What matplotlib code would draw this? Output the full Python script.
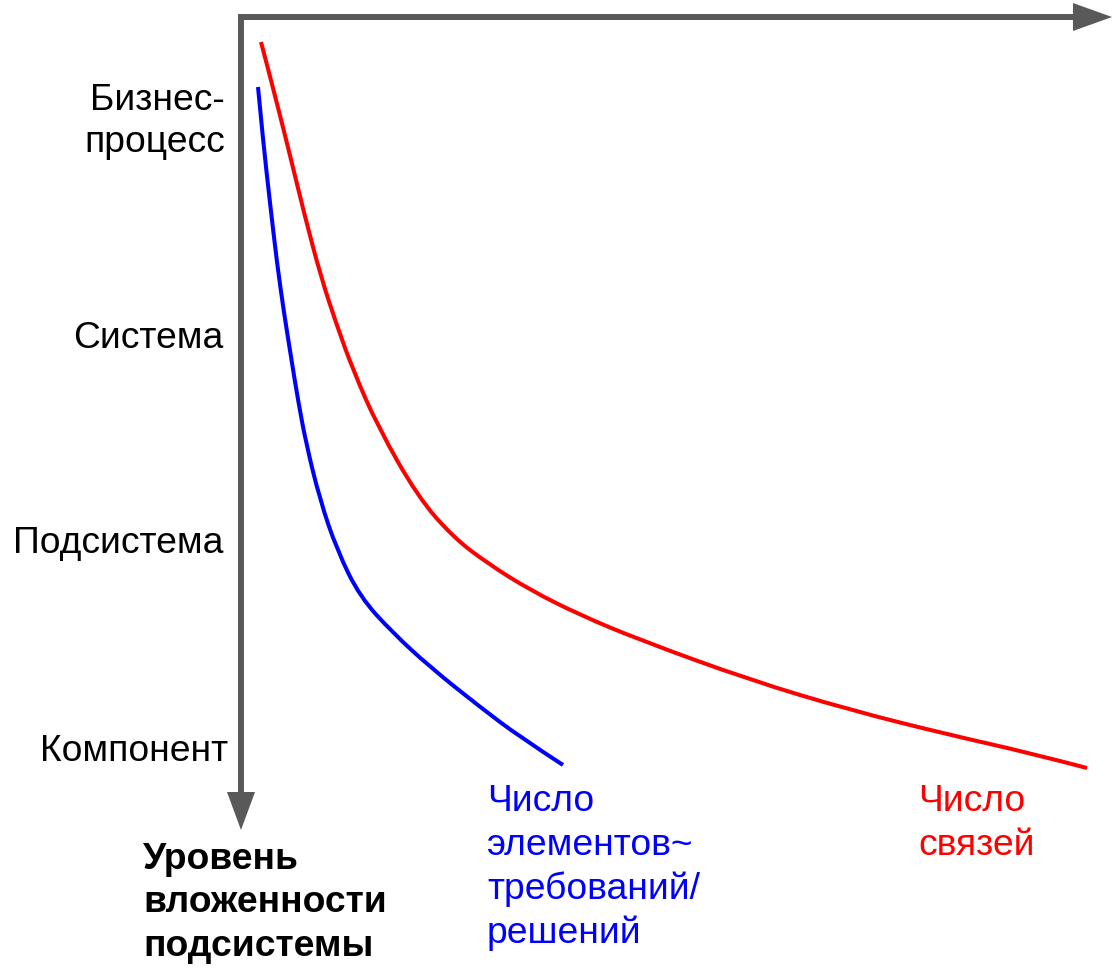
import matplotlib
matplotlib.use("Agg")
import matplotlib.pyplot as plt
from matplotlib.path import Path
from matplotlib.patches import PathPatch, Polygon

plt.rcParams['font.family'] = ['Liberation Sans', 'DejaVu Sans']

# Level labels on the vertical axis: (line text, baseline y)
level_lines = ["Бизнес-", "процесс", "Система", "Подсистема", "Компонент"]
level_base = [110, 152, 348, 553, 761]
level_right = [225, 225, 223, 223, 228]

# Curve: number of elements ~ requirements/solutions (blue)
blue_x = [258, 263, 270, 277, 284, 292, 298, 306, 320, 337, 360, 393, 430, 480, 520, 563]
blue_y = [87, 140, 203, 263, 313, 363, 400, 443, 500, 550, 597, 633, 667, 707, 737, 765]

# Curve: number of links (red)
red_x = [261, 271, 288, 305, 321, 336, 353, 378, 418, 453, 487, 530, 580, 640, 750, 850, 950, 1030, 1087]
red_y = [42, 80, 147, 217, 277, 323, 370, 427, 497, 537, 563, 590, 615, 640, 680, 710, 735, 753, 768]

blue_label = ["Число", "элементов~", "требований/", "решений"]
red_label = ["Число", "связей"]
axis_label = ["Уровень", "вложенности", "подсистемы"]
label_base = [811, 855, 899, 943]
axis_base = [869, 912, 956]

W, H = 1115, 968
fig = plt.figure(figsize=(W / 100, H / 100), dpi=100)
ax = fig.add_axes([0, 0, 1, 1])
ax.set_xlim(0, W)
ax.set_ylim(H, 0)
ax.axis('off')


def smooth_path(xs, ys):
    pts = list(zip(xs, ys))
    verts = [pts[0]]
    codes = [Path.MOVETO]
    for i in range(1, len(pts) - 1):
        mid = ((pts[i][0] + pts[i + 1][0]) / 2, (pts[i][1] + pts[i + 1][1]) / 2)
        if i == len(pts) - 2:
            mid = pts[-1]
        verts += [pts[i], mid]
        codes += [Path.CURVE3, Path.CURVE3]
    return Path(verts, codes)


axis_col = '#595959'
# vertical axis with arrow
ax.plot([241, 241], [14, 795], color=axis_col, lw=4.3, solid_capstyle='butt')
ax.add_patch(Polygon([[227, 792], [255, 792], [241, 830]], closed=True, color=axis_col, lw=0))
# horizontal axis with arrow
ax.plot([238, 1076], [17, 17], color=axis_col, lw=4.3, solid_capstyle='butt')
ax.add_patch(Polygon([[1073, 3], [1073, 31], [1112, 17]], closed=True, color=axis_col, lw=0))

ax.add_patch(PathPatch(smooth_path(blue_x, blue_y), fill=False, edgecolor='#0000ff',
                       lw=2.9, capstyle='butt'))
ax.add_patch(PathPatch(smooth_path(red_x, red_y), fill=False, edgecolor='#ff0000',
                       lw=2.9, capstyle='butt'))

fs = 26.8
for lab, y, xr in zip(level_lines, level_base, level_right):
    ax.text(xr, y, lab, ha='right', va='baseline', fontsize=fs, color='black')

for lab, y in zip(blue_label, label_base):
    ax.text(487, y, lab, ha='left', va='baseline', fontsize=fs, color='#0000ff')
for lab, y in zip(red_label, label_base):
    ax.text(918, y, lab, ha='left', va='baseline', fontsize=fs, color='#ff0000')
for lab, y in zip(axis_label, axis_base):
    ax.text(143, y, lab, ha='left', va='baseline', fontsize=fs, color='black',
            fontweight='bold')

fig.savefig('out.png', dpi=100)
